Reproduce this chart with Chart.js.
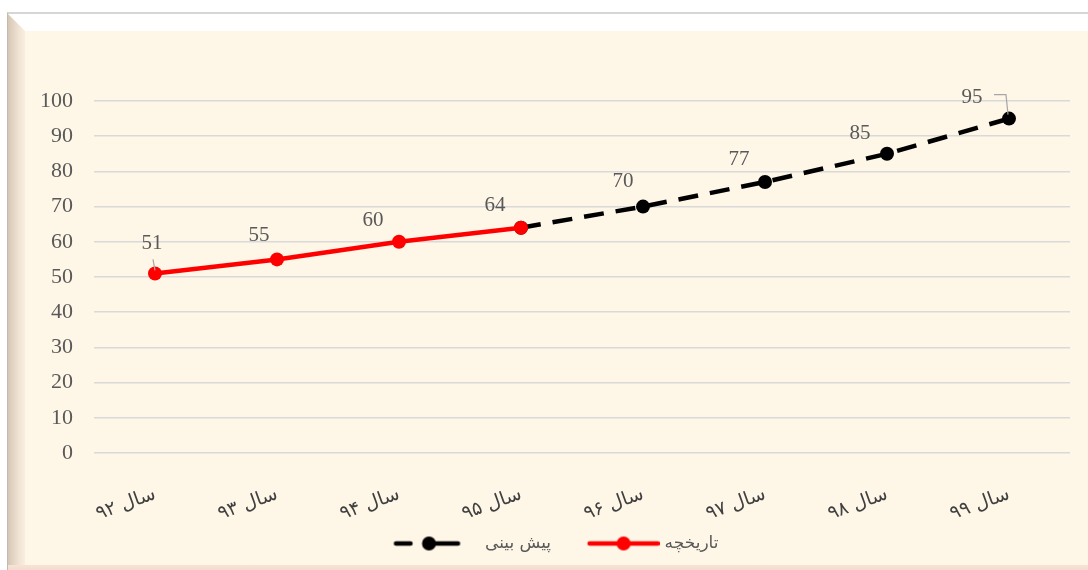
<!DOCTYPE html>
<html lang="fa">
<head>
<meta charset="utf-8">
<script src="https://cdn.jsdelivr.net/npm/chart.js@4/dist/chart.umd.min.js"></script>
<style>
html,body{margin:0;padding:0;background:#fff;}
#wrap{position:relative;width:1088px;height:570px;overflow:hidden;background:#fff;}
.frame{position:absolute;left:7px;top:12px;width:1110px;height:580px;background:#FEF6E7;border-top:2px solid #D6D6D6;border-left:1px solid #C4BAB0;box-sizing:border-box;}
.bev-top{position:absolute;left:8px;top:14px;width:1110px;height:17px;background:#FFFFFF;clip-path:polygon(0 0,100% 0,100% 100%,17px 100%);}
.bev-left{position:absolute;left:8px;top:14px;width:17px;height:560px;background:linear-gradient(to right,#D6C6B6,#EFE2D2 60%,#F8EEE1);clip-path:polygon(0 0,100% 17px,100% 100%,0 100%);}
.bev-bottom{position:absolute;left:8px;top:565px;width:1110px;height:6px;background:linear-gradient(to bottom,#F7E3D6,#F3D9CB);}
canvas{position:absolute;left:0;top:0;}
</style>
</head>
<body>
<div id="wrap">
  <div class="frame"></div>
  <div class="bev-top"></div>
  <div class="bev-left"></div>
  <div class="bev-bottom"></div>
  <canvas id="c" width="1088" height="570"></canvas>
</div>
<script>
// Years on the category axis
const categories = ['سال ۹۲', 'سال ۹۳', 'سال ۹۴', 'سال ۹۵', 'سال ۹۶', 'سال ۹۷', 'سال ۹۸', 'سال ۹۹'];
// Recorded values (history)
const historyValues = [51, 55, 60, 64, null, null, null, null];
// Projected values (forecast), starting from the last recorded year
const forecastValues = [null, null, null, 64, 70, 77, 85, 95];
// Y-axis range
const yTicks = { min: 0, max: 100, step: 10 };
const seriesNames = { forecast: 'پیش بینی', history: 'تاریخچه' };

// Label placement relative to each point (dx, dy)
const labelShift = [[-3, -30], [-18, -24], [-26, -21], [-26, -22], [-20, -25], [-26, -22], [-27, -20], [-37, -21]];

// Legend symbols: line with a round marker in the middle
function forecastSymbol() {
  const c = document.createElement('canvas');
  c.width = 90; c.height = 18;
  const g = c.getContext('2d');
  g.strokeStyle = '#000'; g.fillStyle = '#000'; g.lineWidth = 4.5; g.lineCap = 'round';
  g.beginPath();
  g.moveTo(9.5, 9); g.lineTo(24, 9);
  g.moveTo(48, 9); g.lineTo(71.5, 9);
  g.stroke();
  g.beginPath(); g.arc(42.5, 9, 7, 0, Math.PI * 2); g.fill();
  return c;
}
function historySymbol() {
  const c = document.createElement('canvas');
  c.width = 97; c.height = 18;
  const g = c.getContext('2d');
  g.strokeStyle = '#FF0000'; g.fillStyle = '#FF0000'; g.lineWidth = 4.5; g.lineCap = 'round';
  g.beginPath(); g.moveTo(27, 9); g.lineTo(95, 9); g.stroke();
  g.beginPath(); g.arc(61, 9, 7, 0, Math.PI * 2); g.fill();
  return c;
}

const valueLabels = {
  id: 'valueLabels',
  afterDatasetsDraw(chart) {
    const ctx = chart.ctx;
    const hMeta = chart.getDatasetMeta(1);
    const fMeta = chart.getDatasetMeta(0);
    ctx.save();
    ctx.font = '21px "Liberation Serif", "Times New Roman", serif';
    ctx.fillStyle = '#595959';
    ctx.textAlign = 'center';
    ctx.textBaseline = 'middle';
    categories.forEach((_, i) => {
      const useHist = historyValues[i] != null;
      const v = useHist ? historyValues[i] : forecastValues[i];
      if (v == null) return;
      const pt = (useHist ? hMeta : fMeta).data[i];
      const [dx, dy] = labelShift[i];
      ctx.fillText(String(v), pt.x + dx, pt.y + dy);
    });
    // leader lines for the first and last labels
    ctx.strokeStyle = '#A6A6A6';
    ctx.lineWidth = 1.2;
    const p0 = hMeta.data[0];
    ctx.beginPath(); ctx.moveTo(p0.x - 2, p0.y - 14); ctx.lineTo(p0.x, p0.y - 3); ctx.stroke();
    const p7 = fMeta.data[7];
    ctx.beginPath(); ctx.moveTo(p7.x - 15, p7.y - 24); ctx.lineTo(p7.x - 3, p7.y - 24); ctx.lineTo(p7.x - 1, p7.y - 4); ctx.stroke();
    ctx.restore();
  }
};

new Chart(document.getElementById('c'), {
  type: 'line',
  data: {
    labels: categories,
    datasets: [
      {
        label: seriesNames.forecast,
        data: forecastValues,
        borderColor: '#000000',
        backgroundColor: '#000000',
        borderWidth: 4.5,
        borderDash: [20, 12],
        borderCapStyle: 'butt',
        pointRadius: 7,
        pointHoverRadius: 7,
        pointBorderWidth: 0,
        tension: 0,
        order: 1
      },
      {
        label: seriesNames.history,
        data: historyValues,
        borderColor: '#FF0000',
        backgroundColor: '#FF0000',
        borderWidth: 4.5,
        pointRadius: 7,
        pointHoverRadius: 7,
        pointBorderWidth: 0,
        tension: 0,
        order: 0
      }
    ]
  },
  options: {
    responsive: false,
    animation: false,
    events: [],
    layout: { padding: { top: 101, right: 18, left: 35, bottom: 8 } },
    plugins: {
      tooltip: { enabled: false },
      legend: {
        position: 'bottom',
        labels: {
          usePointStyle: true,
          pointStyleWidth: 90,
          padding: 15,
          color: '#595959',
          font: { family: '"DejaVu Sans", sans-serif', size: 17 },
          generateLabels(chart) {
            return chart.data.datasets.map((ds, i) => ({
              text: ds.label,
              datasetIndex: i,
              fillStyle: ds.borderColor,
              strokeStyle: ds.borderColor,
              lineWidth: 0,
              hidden: false,
              fontColor: '#595959',
              pointStyle: i === 0 ? forecastSymbol() : historySymbol()
            }));
          }
        }
      }
    },
    scales: {
      x: {
        offset: true,
        grid: { display: false },
        border: { display: false },
        ticks: {
          color: '#404040',
          font: { family: '"DejaVu Sans", sans-serif', size: 19 },
          minRotation: 20,
          maxRotation: 20,
          padding: 22
        },
        afterFit(scale) { scale.height = 67; }
      },
      y: {
        min: yTicks.min,
        max: yTicks.max,
        border: { display: false },
        grid: { color: '#D9D9D9', lineWidth: 1.6, drawTicks: false },
        ticks: {
          stepSize: yTicks.step,
          color: '#595959',
          padding: 21,
          font: { family: '"Liberation Serif", "Times New Roman", serif', size: 22 }
        },
        afterFit(scale) { scale.width = 59; }
      }
    }
  },
  plugins: [valueLabels]
});
</script>
</body>
</html>
